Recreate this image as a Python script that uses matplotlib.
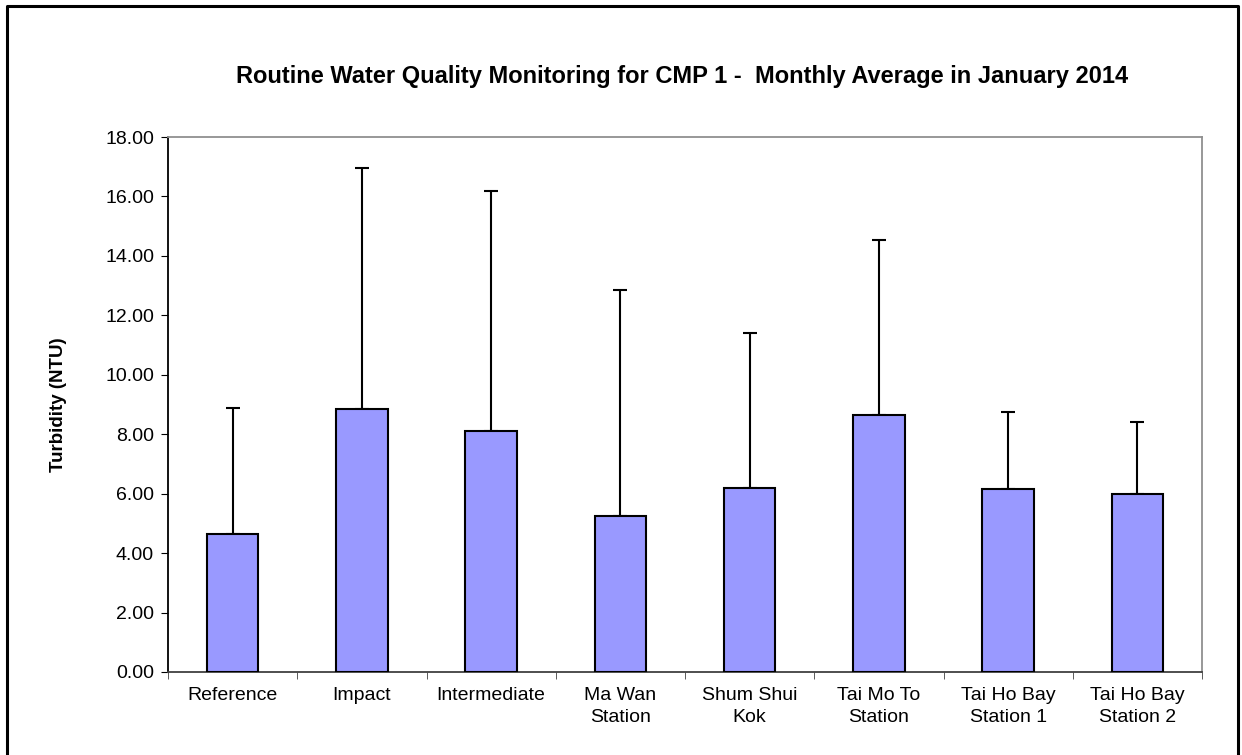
import numpy as np
import matplotlib.pyplot as plt
from matplotlib.lines import Line2D

plt.rcParams['font.family'] = ['Liberation Sans', 'DejaVu Sans']

# monthly averages and upper error (top of whisker)
stations = ['Reference', 'Impact', 'Intermediate', 'Ma Wan\nStation', 'Shum Shui\nKok',
            'Tai Mo To\nStation', 'Tai Ho Bay\nStation 1', 'Tai Ho Bay\nStation 2']
turbidity = [4.63, 8.86, 8.10, 5.26, 6.19, 8.65, 6.16, 5.99]
err_top = [8.87, 16.95, 16.17, 12.85, 11.39, 14.54, 8.74, 8.42]
yticks = [0, 2, 4, 6, 8, 10, 12, 14, 16, 18]

fig = plt.figure(figsize=(12.42, 7.55), dpi=100)
ax = fig.add_axes([168/1242, 1-672/755, (1202-168)/1242, (672-137)/755])

x = np.arange(len(stations))
yerr_up = np.array(err_top) - np.array(turbidity)
ax.bar(x, turbidity, width=0.4, color='#9999ff', edgecolor='black', linewidth=1.5, zorder=3)
ax.errorbar(x, turbidity, yerr=[np.zeros(len(x)), yerr_up], fmt='none', ecolor='black',
            elinewidth=1.5, capsize=5, capthick=1.5, zorder=2)

ax.set_xlim(-0.5, len(stations) - 0.5)
ax.set_ylim(0, 18)
ax.set_yticks(yticks)
ax.set_yticklabels(['%.2f' % v for v in yticks], fontsize=14)
ax.set_xticks(x)
ax.set_xticklabels(stations, fontsize=14, linespacing=1.35)
ax.tick_params(axis='x', length=0, pad=11)
ax.set_xticks(np.arange(-0.5, len(stations)), minor=True)
ax.tick_params(axis='x', which='minor', length=5, direction='out', color='#404040')
ax.tick_params(axis='y', length=5, direction='out', pad=5)

ax.spines['left'].set_color('black')
ax.spines['bottom'].set_color('#404040')
ax.spines['top'].set_color('#909090')
ax.spines['right'].set_color('#909090')
for s in ax.spines.values():
    s.set_linewidth(1.3)

ax.set_ylabel('Turbidity (NTU)', fontsize=13.5, fontweight='bold')
ax.yaxis.set_label_coords((67-168)/1034, 0.5)
fig.text(682/1242, 1-77/755, 'Routine Water Quality Monitoring for CMP 1 -  Monthly Average in January 2014',
         ha='center', va='center', fontsize=17, fontweight='bold')

# outer chart border (bottom edge is cut off in the original)
fig.add_artist(Line2D([7/1242, 7/1242, 1238/1242, 1238/1242], [0, 1-6/755, 1-6/755, 0],
                      transform=fig.transFigure, color='black', linewidth=2.2))

fig.savefig('out.png', dpi=100)
